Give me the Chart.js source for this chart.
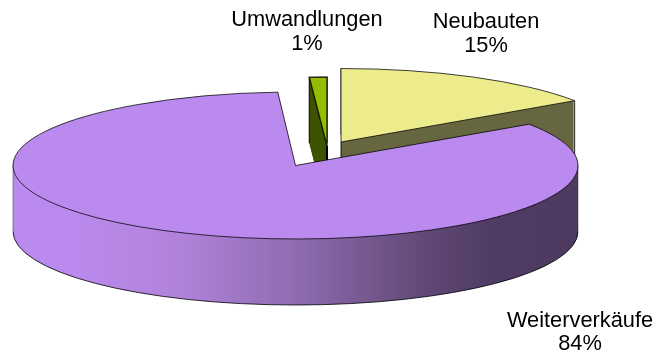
<!DOCTYPE html>
<html>
<head>
<meta charset="utf-8">
<style>
  html, body { margin: 0; padding: 0; background: #fff; }
  #pie { display: block; }
</style>
<script src="https://cdn.jsdelivr.net/npm/chart.js@4"></script>
</head>
<body>
<canvas id="pie" width="656" height="354"></canvas>
<script>
// Data
var categories = ['Neubauten', 'Weiterverkäufe', 'Umwandlungen'];
var shares = [15.5, 83.5, 1];
var shareLabels = ['15%', '84%', '1%'];

// Colors of the top faces and the side faces
var topColors = ['#ECEC8C', '#BB8AEE', '#96BC00'];
var sideColors = [
    [[0, '#666640'], [1, '#666640']],
    [[0, '#BB8AEE'], [0.1, '#BB8AEE'], [0.3, '#B082DA'], [0.5, '#8F6CB0'], [0.72, '#624A78'], [0.84, '#503C64'], [1, '#4E3A60']],
    [[0, '#3F5200'], [1, '#3F5200']]
];

// Where each exploded slice sits on the picture
var pieRadiusX = 282.5;
var sliceRadiusY = [73.5, 73.5, 69];
var pieDepth = 66;
var sliceCenters = [[341, 142], [295.5, 165.5], [327, 146]];
var sideEdgeColors = ['rgba(0,0,0,0.85)', 'rgba(40,30,50,0.45)', '#000'];
var drawOrder = [0, 2, 1];
var labelSpots = [[486, 28, 52], [580, 327, 350], [307, 26, 50]];

var pie3d = {
    id: 'pie3d',
    beforeDatasetsDraw: function (chart) {
        var ctx = chart.ctx;
        var arcs = chart.getDatasetMeta(0).data;

        drawOrder.forEach(function (i) {
            var arc = arcs[i];
            var cx = sliceCenters[i][0];
            var cy = sliceCenters[i][1];
            var ry = sliceRadiusY[i];
            var savedOptions = arc.options;

            // Squashed circle, the scales come from the real arc radius
            function squash(dy) {
                ctx.translate(cx, cy + dy);
                ctx.scale(pieRadiusX / arc.outerRadius, ry / arc.outerRadius);
                ctx.translate(-arc.x, -arc.y);
            }

            // Side face: same arc stacked downwards
            var gradient = ctx.createLinearGradient(arc.x - arc.outerRadius, 0, arc.x + arc.outerRadius, 0);
            sideColors[i].forEach(function (stop) {
                gradient.addColorStop(stop[0], stop[1]);
            });
            arc.options = Object.assign({}, savedOptions, { backgroundColor: gradient });
            for (var d = pieDepth; d > 0; d--) {
                ctx.save();
                squash(d);
                arc.draw(ctx);
                ctx.restore();
            }

            // Bottom rim
            ctx.strokeStyle = 'rgba(0,0,0,0.8)';
            ctx.lineWidth = 1;
            var from = Math.max(arc.startAngle, 0);
            var to = Math.min(arc.endAngle, Math.PI);
            if (from < to) {
                ctx.beginPath();
                ctx.ellipse(cx, cy + pieDepth, pieRadiusX, ry, 0, from, to);
                ctx.stroke();
            }

            // Vertical edges
            ctx.strokeStyle = sideEdgeColors[i];
            [arc.startAngle, arc.endAngle, 0, Math.PI].forEach(function (a) {
                if (a < arc.startAngle || a > arc.endAngle) return;
                var x = cx + pieRadiusX * Math.cos(a);
                var y = cy + ry * Math.sin(a);
                ctx.beginPath();
                ctx.moveTo(x, y);
                ctx.lineTo(x, y + pieDepth);
                ctx.stroke();
            });
            ctx.beginPath();
            ctx.lineWidth = i === 2 ? 2 : 1;
            ctx.moveTo(cx, cy);
            ctx.lineTo(cx, cy + pieDepth);
            ctx.stroke();

            // Top face
            arc.options = savedOptions;
            ctx.save();
            squash(0);
            arc.draw(ctx);
            ctx.restore();

            ctx.strokeStyle = 'rgba(0,0,0,0.75)';
            ctx.lineWidth = i === 2 ? 1.5 : 1;
            ctx.beginPath();
            ctx.moveTo(cx, cy);
            ctx.ellipse(cx, cy, pieRadiusX, ry, 0, arc.startAngle, arc.endAngle);
            ctx.closePath();
            ctx.stroke();
        });

        // Labels
        ctx.save();
        ctx.fillStyle = '#000';
        ctx.font = "21.8px 'Liberation Sans', Arial, sans-serif";
        ctx.textAlign = 'center';
        categories.forEach(function (name, i) {
            ctx.fillText(name, labelSpots[i][0], labelSpots[i][1]);
            ctx.fillText(shareLabels[i], labelSpots[i][0], labelSpots[i][2]);
        });
        ctx.restore();

        return false; // arcs are already drawn above
    }
};

var pieChart = new Chart(document.getElementById('pie').getContext('2d'), {
    type: 'pie',
    data: {
        labels: categories,
        datasets: [{
            data: shares,
            backgroundColor: topColors,
            borderWidth: 0
        }]
    },
    options: {
        responsive: false,
        animation: false,
        plugins: {
            legend: { display: false },
            tooltip: { enabled: false }
        }
    },
    plugins: [pie3d]
});
</script>
</body>
</html>
